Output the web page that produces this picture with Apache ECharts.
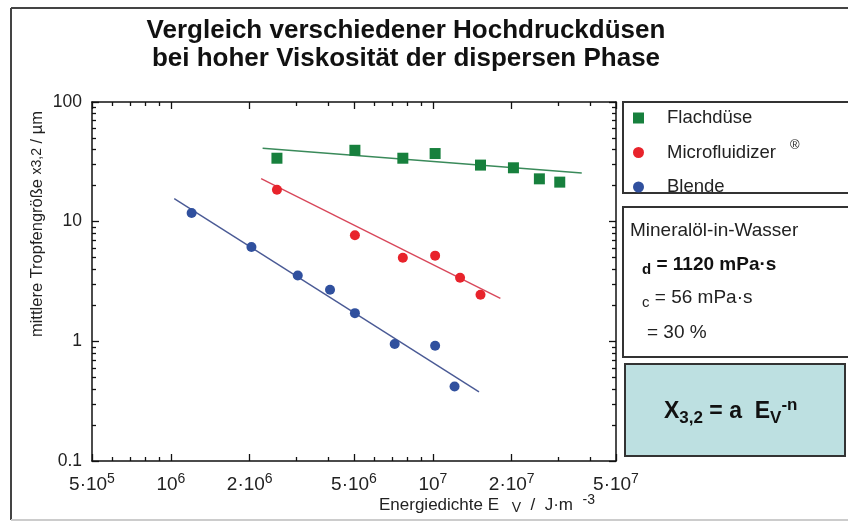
<!DOCTYPE html>
<html><head><meta charset="utf-8">
<script src="https://cdn.jsdelivr.net/npm/echarts@6/dist/echarts.min.js"></script>
<style>html,body{margin:0;padding:0;background:#fff}#c{width:848px;height:524px}</style>
</head><body><div id="c"></div>
<script>
const FONT = '"Liberation Sans", Arial, Helvetica, sans-serif';

// ---- data ----
const flachE = [2.54e6, 5.04e6, 7.68e6, 1.02e7, 1.52e7, 2.03e7, 2.55e7, 3.05e7];
const flachX = [33.9, 39.5, 33.9, 37.1, 29.7, 28.2, 22.8, 21.4];
const microE = [2.54e6, 5.04e6, 7.68e6, 1.02e7, 1.27e7, 1.52e7];
const microX = [18.5, 7.7, 5.0, 5.2, 3.4, 2.45];
const blendeE = [1.2e6, 2.03e6, 3.05e6, 4.05e6, 5.04e6, 7.15e6, 1.02e7, 1.21e7];
const blendeX = [11.8, 6.15, 3.55, 2.7, 1.72, 0.95, 0.92, 0.42];
const flachFitE = [2.24e6, 3.7e7];
const flachFitX = [41.1, 25.5];
const microFitE = [2.21e6, 1.81e7];
const microFitX = [22.9, 2.29];
const blendeFitE = [1.03e6, 1.5e7];
const blendeFitX = [15.6, 0.378];

// ---- ticks ----
const xTickValues = [5e5, 1e6, 2e6, 5e6, 1e7, 2e7, 5e7];
const xTickLabels = ['5·10^5', '10^6', '2·10^6', '5·10^6', '10^7', '2·10^7', '5·10^7'];
const xMinorTicks = [6e5, 7e5, 8e5, 9e5, 3e6, 4e6, 6e6, 7e6, 8e6, 9e6, 3e7, 4e7];
const yTickValues = [0.1, 1, 10, 100];
const yTickLabels = ['0.1', '1', '10', '100'];
const yMinorTicks = [0.2, 0.3, 0.4, 0.5, 0.6, 0.7, 0.8, 0.9, 2, 3, 4, 5, 6, 7, 8, 9, 20, 30, 40, 50, 60, 70, 80, 90];

const seriesNames = ['Flachdüse', 'Microfluidizer', 'Blende'];
const seriesColors = ['#17803d', '#e8232b', '#30509e'];
const fitColors = ['#3a8a5a', '#d8475a', '#4a5a95'];

function findIdx(vals, v) {
  for (let i = 0; i < vals.length; i++) {
    if (Math.abs(Math.log10(vals[i]) - Math.log10(v)) < 1e-6) return i;
  }
  return -1;
}
function fmtX(v) {
  const i = findIdx(xTickValues, v);
  if (i < 0) return '';
  return xTickLabels[i].replace(/\^(\S+)/, '{sup|$1}');
}
function fmtY(v) {
  const i = findIdx(yTickValues, v);
  return i < 0 ? '' : yTickLabels[i];
}
const zip = (a, b) => a.map((e, i) => [e, b[i]]);

const AX = '#111';
function xAx(pos, major, withLabel) {
  return {
    type: 'log', logBase: 10, min: 5e5, max: 5e7, gridIndex: 0, position: pos,
    axisLine: { show: major, onZero: false, lineStyle: { color: AX, width: 1.5 } },
    axisTick: { show: true, inside: true, length: major ? 7 : 4,
      customValues: major ? xTickValues : xMinorTicks, lineStyle: { color: AX, width: 1.3 } },
    axisLabel: withLabel ? {
      show: true, customValues: xTickValues, formatter: fmtX, margin: 11,
      color: '#222', fontSize: 19, fontFamily: FONT,
      rich: { sup: { fontSize: 14, fontFamily: FONT, color: '#222', padding: [0, 0, 11, 0] } }
    } : { show: false },
    splitLine: { show: false }
  };
}
function yAx(pos, major, withLabel) {
  return {
    type: 'log', logBase: 10, min: 0.1, max: 100, gridIndex: 0, position: pos,
    axisLine: { show: major, onZero: false, lineStyle: { color: AX, width: 1.5 } },
    axisTick: { show: true, inside: true, length: major ? 7 : 4,
      customValues: major ? yTickValues : yMinorTicks, lineStyle: { color: AX, width: 1.3 } },
    axisLabel: withLabel ? {
      show: true, customValues: yTickValues, formatter: fmtY, margin: 10,
      color: '#222', fontSize: 17.5, fontFamily: FONT
    } : { show: false },
    splitLine: { show: false }
  };
}

const chart = echarts.init(document.getElementById('c'), null, { renderer: 'canvas' });
const option = {
  backgroundColor: '#fff',
  animation: false,
  title: {
    text: 'Vergleich verschiedener Hochdruckdüsen\nbei hoher Viskosität der dispersen Phase',
    left: 401, top: 12, textAlign: 'center',
    textStyle: { fontSize: 26, fontWeight: 'bold', fontFamily: FONT, color: '#111', lineHeight: 28 }
  },
  grid: { left: 92, right: 232, top: 102, bottom: 63, containLabel: false },
  xAxis: [xAx('bottom', true, true), xAx('bottom', false, false), xAx('top', true, false), xAx('top', false, false)],
  yAxis: [yAx('left', true, true), yAx('left', false, false), yAx('right', true, false), yAx('right', false, false)],
  legend: {
    orient: 'vertical', left: 628, top: 100, itemWidth: 11, itemHeight: 11, itemGap: 8,
    data: [
      { name: seriesNames[0], icon: 'rect' },
      { name: seriesNames[1], icon: 'circle' },
      { name: seriesNames[2], icon: 'circle' }
    ],
    formatter: n => n === 'Microfluidizer' ? 'Microfluidizer{r|®}' : n,
    textStyle: { fontSize: 18.5, fontFamily: FONT, color: '#222', lineHeight: 26, padding: [0, 0, 0, 18],
      rich: { r: { fontSize: 13, fontFamily: FONT, color: '#222', lineHeight: 12, padding: [0, 0, 14, 14] } } }
  },
  series: [
    { type: 'line', name: 'fit1', data: zip(flachFitE, flachFitX), symbol: 'none', silent: true,
      lineStyle: { color: fitColors[0], width: 1.4 }, z: 2 },
    { type: 'line', name: 'fit2', data: zip(microFitE, microFitX), symbol: 'none', silent: true,
      lineStyle: { color: fitColors[1], width: 1.4 }, z: 2 },
    { type: 'line', name: 'fit3', data: zip(blendeFitE, blendeFitX), symbol: 'none', silent: true,
      lineStyle: { color: fitColors[2], width: 1.4 }, z: 2 },
    { type: 'scatter', name: seriesNames[0], data: zip(flachE, flachX), symbol: 'rect', symbolSize: 11,
      itemStyle: { color: seriesColors[0], opacity: 1 }, z: 3 },
    { type: 'scatter', name: seriesNames[1], data: zip(microE, microX), symbol: 'circle', symbolSize: 10,
      itemStyle: { color: seriesColors[1], opacity: 1 }, z: 3 },
    { type: 'scatter', name: seriesNames[2], data: zip(blendeE, blendeX), symbol: 'circle', symbolSize: 10,
      itemStyle: { color: seriesColors[2], opacity: 1 }, z: 3 }
  ],
  graphic: [
    { type: 'line', shape: { x1: 11, y1: 8, x2: 11, y2: 520 }, style: { stroke: '#444', lineWidth: 2 }, silent: true },
    { type: 'line', shape: { x1: 11, y1: 8, x2: 848, y2: 8 }, style: { stroke: '#444', lineWidth: 2 }, silent: true },
    { type: 'line', shape: { x1: 11, y1: 520, x2: 848, y2: 520 }, style: { stroke: '#ccc', lineWidth: 2 }, silent: true },
    { type: 'rect', shape: { x: 623, y: 102, width: 240, height: 91 }, style: { fill: 'none', stroke: '#333', lineWidth: 2 }, silent: true },
    { type: 'rect', shape: { x: 623, y: 207, width: 240, height: 150 }, style: { fill: 'none', stroke: '#333', lineWidth: 2 }, silent: true },
    { type: 'rect', shape: { x: 625, y: 364, width: 220, height: 92 }, style: { fill: '#bde0e1', stroke: '#333', lineWidth: 2 }, silent: true },
    { type: 'text', x: 630, y: 231, style: { text: 'Mineralöl-in-Wasser', fontSize: 19, fontFamily: FONT, fill: '#222', verticalAlign: 'middle' }, silent: true },
    { type: 'text', x: 642, y: 265, style: { text: '{s|d}{b| = 1120 mPa·s}', verticalAlign: 'middle', fill: '#111',
        rich: { s: { fontSize: 15, fontWeight: 'bold', fontFamily: FONT, padding: [9, 0, 0, 0] },
                b: { fontSize: 19, fontWeight: 'bold', fontFamily: FONT } } }, silent: true },
    { type: 'text', x: 642, y: 298, style: { text: '{s|c}{n| = 56 mPa·s}', verticalAlign: 'middle', fill: '#222',
        rich: { s: { fontSize: 15, fontFamily: FONT, padding: [9, 0, 0, 0] },
                n: { fontSize: 19, fontFamily: FONT } } }, silent: true },
    { type: 'text', x: 647, y: 333, style: { text: '= 30 %', fontSize: 19, fontFamily: FONT, fill: '#222', verticalAlign: 'middle' }, silent: true },
    { type: 'text', x: 664, y: 412, style: { text: '{b|X}{s|3,2}{b| = a  E}{s|V}{p|-n}', verticalAlign: 'middle', fill: '#111',
        rich: { b: { fontSize: 23, fontWeight: 'bold', fontFamily: FONT },
                s: { fontSize: 17, fontWeight: 'bold', fontFamily: FONT, padding: [12, 0, 0, 0] },
                p: { fontSize: 17, fontWeight: 'bold', fontFamily: FONT, padding: [0, 0, 14, 0] } } }, silent: true },
    { type: 'text', x: 37, y: 224, rotation: Math.PI / 2,
      style: { text: '{n|mittlere Tropfengröße }{s|x3,2}{n| / µm}', align: 'center', verticalAlign: 'middle', fill: '#222',
        rich: { n: { fontSize: 16.5, fontFamily: FONT }, s: { fontSize: 14, fontFamily: FONT } } }, silent: true },
    { type: 'text', x: 379, y: 505,
      style: { text: '{n|Energiedichte E }{s|V}{n|  /  J·m  }{p|-3}', verticalAlign: 'middle', fill: '#222',
        rich: { n: { fontSize: 17, fontFamily: FONT }, s: { fontSize: 14, fontFamily: FONT, padding: [7, 0, 0, 8] },
                p: { fontSize: 14, fontFamily: FONT, padding: [0, 0, 9, 0] } } }, silent: true }
  ]
};
chart.setOption(option);
</script>
</body></html>
